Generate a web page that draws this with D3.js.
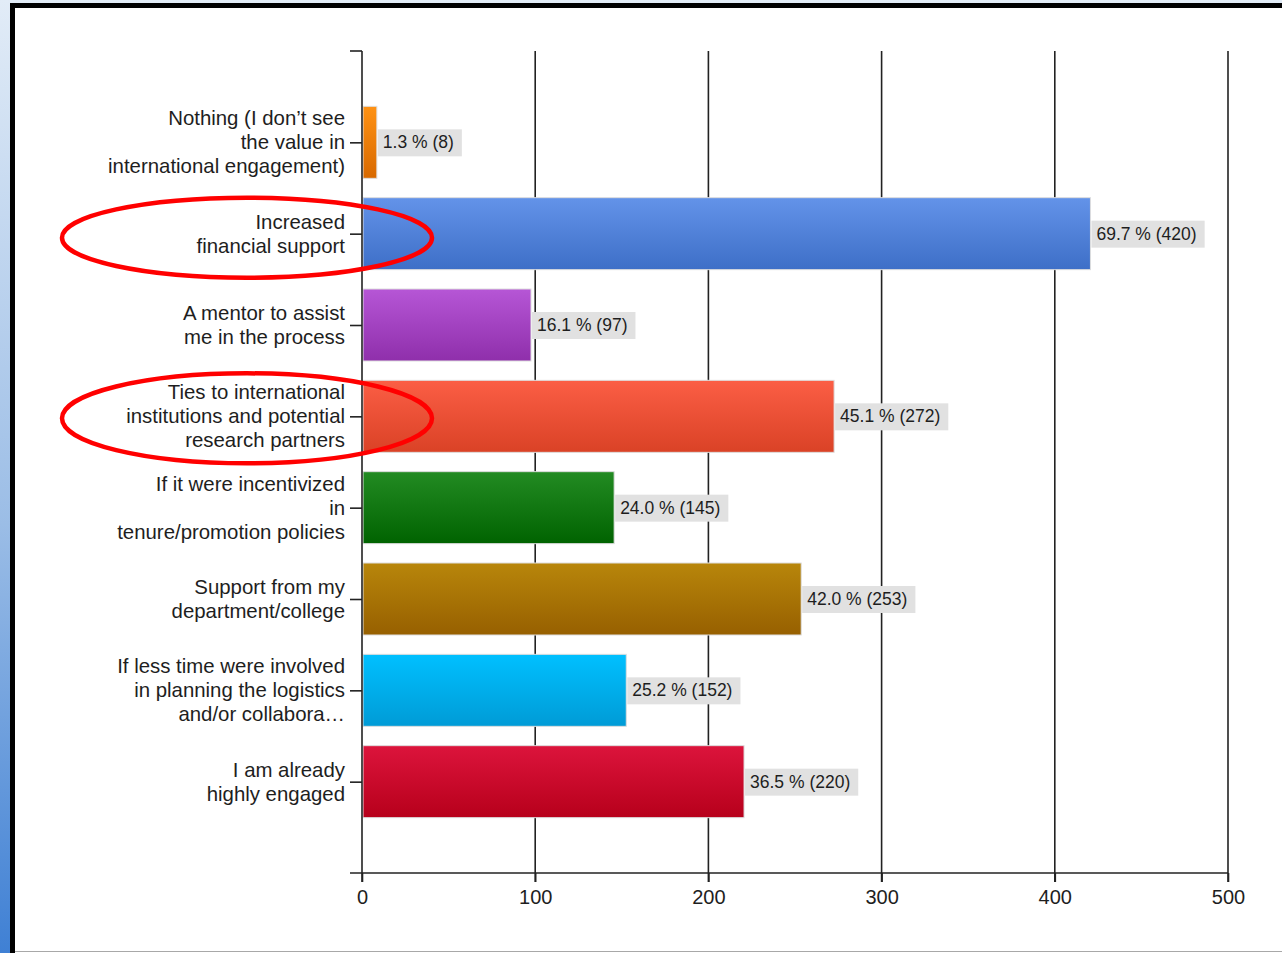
<!DOCTYPE html>
<html>
<head>
<meta charset="utf-8">
<script src="https://cdn.jsdelivr.net/npm/d3@7"></script>
<style>
  html, body { margin: 0; padding: 0; background: #ffffff; }
  svg { display: block; }
  text { font-family: "Liberation Sans", Arial, sans-serif; fill: #1e1e1e; }
</style>
</head>
<body>
<svg id="chart" width="1282" height="953"></svg>
<script>
// Survey answers: what would increase international engagement
const categories = [
  ["Nothing (I don\u2019t see", "the value in", "international engagement)"],
  ["Increased", "financial support"],
  ["A mentor to assist", "me in the process"],
  ["Ties to international", "institutions and potential", "research partners"],
  ["If it were incentivized", "in", "tenure/promotion policies"],
  ["Support from my", "department/college"],
  ["If less time were involved", "in planning the logistics", "and/or collabora\u2026"],
  ["I am already", "highly engaged"]
];
const counts   = [8, 420, 97, 272, 145, 253, 152, 220];
const percents = [1.3, 69.7, 16.1, 45.1, 24.0, 42.0, 25.2, 36.5];
const xTicks   = [0, 100, 200, 300, 400, 500];
const barTop    = ["#ff9214", "#6393e9", "#b656d6", "#fb5e45", "#238b23", "#b8860b", "#00c0ff", "#dc143c"];
const barBottom = ["#d86900", "#3e6fc7", "#8f2fab", "#da4226", "#006300", "#976000", "#009bd6", "#b7001b"];
// Categories that are circled in red
const highlighted = [1, 3];

const svg = d3.select("#chart");
const W = 1282, H = 953;
const defs = svg.append("defs");

// Window frame: blue gradient edge, black border, white canvas
const frameGrad = defs.append("linearGradient").attr("id", "frame")
  .attr("x1", 0).attr("y1", 0).attr("x2", 0).attr("y2", 1);
frameGrad.append("stop").attr("offset", "0%").attr("stop-color", "#e2ecf7");
frameGrad.append("stop").attr("offset", "55%").attr("stop-color", "#9bbde6");
frameGrad.append("stop").attr("offset", "100%").attr("stop-color", "#3f80d4");
svg.append("rect").attr("width", W).attr("height", H).attr("fill", "url(#frame)");
svg.append("rect").attr("x", 10).attr("y", 3).attr("width", W - 10).attr("height", H - 3).attr("fill", "#000");
svg.append("rect").attr("x", 15).attr("y", 8).attr("width", W - 15).attr("height", H - 8).attr("fill", "#fff");
svg.append("line").attr("x1", 15).attr("x2", W).attr("y1", 951.5).attr("y2", 951.5)
  .attr("stroke", "#a8a8a8").attr("stroke-width", 1);

// Scales
const plotTop = 51, plotBottom = 873, plotLeft = 362, plotRight = 1228;
const x = d3.scaleLinear().domain([0, 500]).range([plotLeft, plotRight]);
const y = d3.scalePoint().domain(d3.range(categories.length)).range([plotTop, plotBottom]).padding(1);
const barH = 72;

// Vertical gridlines (drawn behind the bars)
const grid = svg.append("g");
grid.selectAll("line").data(xTicks.slice(1)).join("line")
  .attr("x1", d => x(d)).attr("x2", d => x(d))
  .attr("y1", plotTop).attr("y2", plotBottom + 9)
  .attr("stroke", "#222").attr("stroke-width", 1.6);

// Bar gradients
categories.forEach((c, i) => {
  const g = defs.append("linearGradient").attr("id", "bar" + i)
    .attr("x1", 0).attr("y1", 0).attr("x2", 0).attr("y2", 1);
  g.append("stop").attr("offset", "0%").attr("stop-color", barTop[i]);
  g.append("stop").attr("offset", "100%").attr("stop-color", barBottom[i]);
});

// Bars
svg.append("g").selectAll("rect").data(counts).join("rect")
  .attr("x", x(0) + 1)
  .attr("y", (d, i) => y(i) - barH / 2)
  .attr("width", d => x(d) - x(0))
  .attr("height", barH)
  .attr("fill", (d, i) => `url(#bar${i})`)
  .attr("stroke", "#dedede").attr("stroke-width", 1);

// Value labels on grey boxes
const vl = svg.append("g").selectAll("g").data(counts).join("g");
vl.each(function (d, i) {
  const g = d3.select(this);
  const bx = x(d) + 2;
  const t = g.append("text")
    .attr("x", bx + 5).attr("y", y(i) + 6)
    .attr("font-size", 17.5)
    .text(`${percents[i].toFixed(1)} % (${d})`);
  const w = t.node().getComputedTextLength();
  g.insert("rect", "text")
    .attr("x", bx).attr("y", y(i) - 13)
    .attr("width", w + 13).attr("height", 27)
    .attr("fill", "#e1e1e1");
});

// Y axis with multi-line category labels
const yAxis = d3.axisLeft(y).tickSize(12).tickFormat("");
const yg = svg.append("g").attr("transform", `translate(${plotLeft},0)`).call(yAxis);
yg.select(".domain").remove();
yg.selectAll(".tick line").attr("stroke", "#222").attr("stroke-width", 1.6);
svg.append("line").attr("x1", plotLeft).attr("x2", plotLeft)
  .attr("y1", plotTop).attr("y2", plotBottom + 9)
  .attr("stroke", "#222").attr("stroke-width", 1.6);
svg.append("line").attr("x1", plotLeft - 12).attr("x2", plotLeft)
  .attr("y1", plotTop).attr("y2", plotTop)
  .attr("stroke", "#222").attr("stroke-width", 1.6);

const lineH = 24;
svg.append("g").selectAll("text").data(categories).join("text")
  .attr("text-anchor", "end")
  .attr("font-size", 20.4)
  .each(function (lines, i) {
    const t = d3.select(this);
    const first = y(i) - (lines.length - 1) * lineH / 2 + 7;
    lines.forEach((ln, k) => {
      t.append("tspan").attr("x", plotLeft - 17).attr("y", first + k * lineH).text(ln);
    });
  });

// X axis
const xAxis = d3.axisBottom(x).tickValues(xTicks).tickSize(9).tickFormat(d3.format("d"));
const xg = svg.append("g").attr("transform", `translate(0,${plotBottom})`).call(xAxis);
xg.select(".domain").remove();
xg.selectAll(".tick line").attr("stroke", "#222").attr("stroke-width", 1.6);
xg.selectAll(".tick text").attr("font-size", 20).attr("dy", "0.95em")
  .attr("font-family", "Liberation Sans, Arial, sans-serif").attr("fill", "#1e1e1e");
svg.append("line").attr("x1", plotLeft - 12).attr("x2", plotRight)
  .attr("y1", plotBottom).attr("y2", plotBottom)
  .attr("stroke", "#222").attr("stroke-width", 1.6);

// Red ellipses around highlighted answers
const ry = [40, 45];
svg.append("g").selectAll("ellipse").data(highlighted).join("ellipse")
  .attr("cx", 247)
  .attr("cy", (d, k) => y(d) + (k === 0 ? 4 : 2))
  .attr("rx", 185)
  .attr("ry", (d, k) => ry[k])
  .attr("fill", "none")
  .attr("stroke", "#ff0000")
  .attr("stroke-width", 4.5);
</script>
</body>
</html>
